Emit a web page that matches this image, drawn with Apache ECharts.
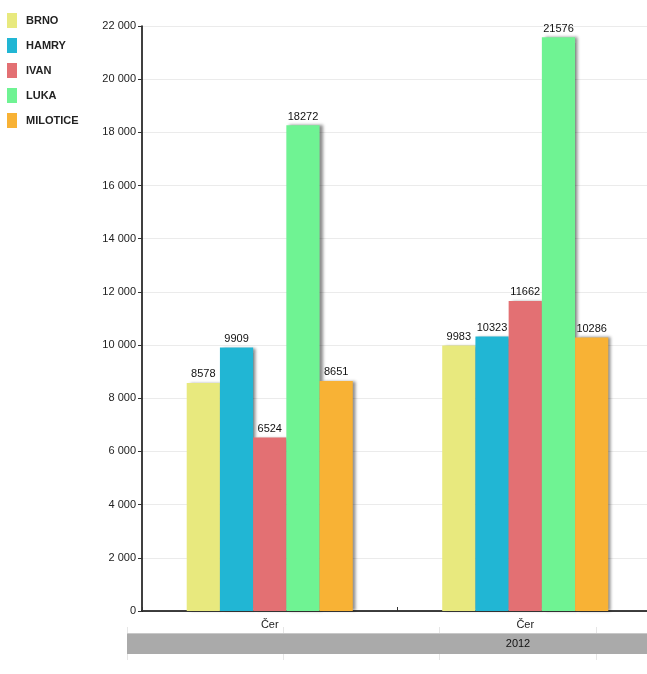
<!DOCTYPE html>
<html>
<head>
<meta charset="utf-8">
<script src="https://cdn.jsdelivr.net/npm/echarts@6/dist/echarts.min.js"></script>
<style>
html,body{margin:0;padding:0;background:#fff;}
#chart{width:647px;height:674px;}
</style>
</head>
<body>
<div id="chart"></div>
<script>
var categories = ['Čer', 'Čer'];
var groupLabel = '2012';
var seriesNames = ['BRNO', 'HAMRY', 'IVAN', 'LUKA', 'MILOTICE'];
var brno = [8578, 9983];
var hamry = [9909, 10323];
var ivan = [6524, 11662];
var luka = [18272, 21576];
var milotice = [8651, 10286];
var colors = ['#e8e97e', '#21b6d4', '#e37073', '#6ff393', '#f8b235'];
var yTicks = {min: 0, max: 22000, interval: 2000};

var values = [brno, hamry, ivan, luka, milotice];
var FONT = 'Arial, "Liberation Sans", sans-serif';

function fmt(v) {
  return String(v).replace(/\B(?=(\d{3})+(?!\d))/g, ' ');
}

var chart = echarts.init(document.getElementById('chart'));
var series = seriesNames.map(function (name, i) {
  return {
    name: name,
    type: 'bar',
    data: values[i],
    barGap: '0%',
    barCategoryGap: '35%',
    itemStyle: {
      color: colors[i],
      shadowColor: 'rgba(0,0,0,0.45)',
      shadowOffsetX: 3,
      shadowOffsetY: 0,
      shadowBlur: 3
    },
    label: {
      show: true,
      position: 'top',
      distance: 3,
      color: '#111',
      fontSize: 11,
      fontFamily: FONT
    }
  };
});

chart.setOption({
  animation: false,
  textStyle: {fontFamily: FONT},
  legend: {
    orient: 'vertical',
    left: 7,
    top: 13,
    padding: 0,
    itemWidth: 10,
    itemHeight: 15,
    itemGap: 10,
    icon: 'rect',
    data: seriesNames,
    textStyle: {fontSize: 11, fontWeight: 'bold', color: '#222', fontFamily: FONT, padding: [0, 0, 0, 4]}
  },
  grid: {left: 142, width: 511, top: 26, bottom: 63, containLabel: false, outerBoundsMode: 'none'},
  xAxis: {
    type: 'category',
    data: categories,
    axisLine: {lineStyle: {color: '#000', width: 1.5}},
    axisTick: {show: true, inside: true, length: 4, lineStyle: {color: '#333'}},
    axisLabel: {fontSize: 11, color: '#222', margin: 8, fontFamily: FONT},
    splitLine: {show: false}
  },
  yAxis: {
    type: 'value',
    min: yTicks.min,
    max: yTicks.max,
    interval: yTicks.interval,
    axisLine: {show: true, lineStyle: {color: '#000', width: 1.5}},
    axisTick: {show: true, length: 4, lineStyle: {color: '#333'}},
    axisLabel: {fontSize: 11, color: '#222', margin: 6, fontFamily: FONT, formatter: fmt},
    splitLine: {show: true, lineStyle: {color: '#ebebeb', width: 1}}
  },
  graphic: [
    {type: 'line', shape: {x1: 127.5, y1: 627, x2: 127.5, y2: 660}, style: {stroke: '#e6e6e6', lineWidth: 1}},
    {type: 'line', shape: {x1: 283.5, y1: 627, x2: 283.5, y2: 660}, style: {stroke: '#e6e6e6', lineWidth: 1}},
    {type: 'line', shape: {x1: 439.5, y1: 627, x2: 439.5, y2: 660}, style: {stroke: '#e6e6e6', lineWidth: 1}},
    {type: 'line', shape: {x1: 596.5, y1: 627, x2: 596.5, y2: 660}, style: {stroke: '#e6e6e6', lineWidth: 1}},
    {type: 'rect', shape: {x: 127, y: 633, width: 520, height: 21}, style: {fill: '#aaaaaa'}},
    {type: 'line', shape: {x1: 127, y1: 633.5, x2: 647, y2: 633.5}, style: {stroke: '#c8c8c8', lineWidth: 1}},
    {type: 'text', x: 518, y: 644, style: {text: groupLabel, fill: '#111', fontSize: 11, fontFamily: FONT, align: 'center', verticalAlign: 'middle'}}
  ],
  series: series
});
</script>
</body>
</html>
